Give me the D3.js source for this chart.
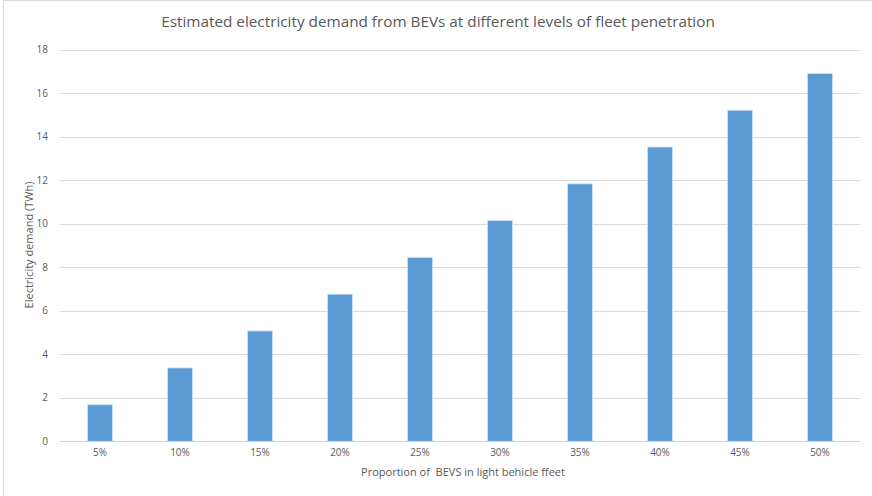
<!DOCTYPE html>
<html>
<head>
<meta charset="utf-8">
<script src="https://cdn.jsdelivr.net/npm/d3@7"></script>
<style>
  html, body { margin: 0; padding: 0; background: #fff; }
  svg { display: block; font-family: "Open Sans", "Liberation Sans", sans-serif; }
  text { white-space: pre; }
</style>
</head>
<body>
<svg id="chart" width="872" height="496"></svg>
<script>
// Fleet penetration levels and estimated BEV electricity demand (TWh)
const categories = ["5%", "10%", "15%", "20%", "25%", "30%", "35%", "40%", "45%", "50%"];
const demand = [1.68, 3.37, 5.07, 6.76, 8.45, 10.14, 11.83, 13.52, 15.21, 16.9];
const yTicks = [0, 2, 4, 6, 8, 10, 12, 14, 16, 18];

const title = "Estimated electricity demand from BEVs at different levels of fleet penetration";
const xTitle = "Proportion of  BEVS in light behicle ffeet";
const yTitle = "Electricity demand (TWh)";

const svg = d3.select("#chart");
const margin = { left: 60, right: 12, top: 49.5, bottom: 55 };
const W = 872, H = 496;
const plotBottom = 441.3;

// chart frame (left and top edges)
svg.append("path")
  .attr("d", `M3.5,${H} V0.5 H${W}`)
  .attr("fill", "none")
  .attr("stroke", "#d9d9d9")
  .attr("stroke-width", 1);

const x = d3.scaleBand()
  .domain(categories)
  .range([margin.left, W - margin.right])
  .paddingInner(0.6875)
  .paddingOuter(0.34375);

const y = d3.scaleLinear()
  .domain([0, 18])
  .range([plotBottom, margin.top]);

// horizontal gridlines
svg.append("g")
  .selectAll("line")
  .data(yTicks)
  .join("line")
  .attr("x1", margin.left)
  .attr("x2", W - margin.right)
  .attr("y1", d => Math.round(y(d)) + 0.5)
  .attr("y2", d => Math.round(y(d)) + 0.5)
  .attr("stroke", "#d9d9d9")
  .attr("stroke-width", 1);

// y axis labels
const yAxis = d3.axisLeft(y).tickValues(yTicks).tickSize(0).tickPadding(0);
svg.append("g")
  .attr("transform", `translate(${margin.left - 12},0)`)
  .call(yAxis)
  .call(g => g.select(".domain").remove())
  .call(g => g.selectAll("text")
    .attr("fill", "#595959")
    .attr("font-size", 10)
    .attr("font-family", "'Open Sans', sans-serif"));

// bars
svg.append("g")
  .selectAll("rect")
  .data(demand)
  .join("rect")
  .attr("x", (d, i) => x(categories[i]))
  .attr("width", x.bandwidth())
  .attr("y", d => y(d))
  .attr("height", d => y(0) - y(d))
  .attr("fill", "#5b9bd5")
  .attr("stroke", "#cfe1f3")
  .attr("stroke-width", 0.8);

// baseline
svg.append("line")
  .attr("x1", margin.left)
  .attr("x2", W - margin.right)
  .attr("y1", Math.round(y(0)) + 0.5)
  .attr("y2", Math.round(y(0)) + 0.5)
  .attr("stroke", "#d0d0d0")
  .attr("stroke-width", 1.2);

// x axis labels
const xAxis = d3.axisBottom(x).tickSize(0).tickPadding(0);
svg.append("g")
  .attr("transform", `translate(0,${plotBottom + 8})`)
  .call(xAxis)
  .call(g => g.select(".domain").remove())
  .call(g => g.selectAll("text")
    .attr("fill", "#595959")
    .attr("font-size", 10)
    .attr("font-family", "'Open Sans', sans-serif"));

// title
svg.append("text")
  .attr("x", 438)
  .attr("y", 27)
  .attr("text-anchor", "middle")
  .attr("fill", "#595959")
  .attr("font-size", 15.3)
  .text(title);

// axis titles
svg.append("text")
  .attr("x", 463)
  .attr("y", 476)
  .attr("text-anchor", "middle")
  .attr("fill", "#595959")
  .attr("font-size", 11)
  .text(xTitle);

svg.append("text")
  .attr("transform", `translate(33,${245}) rotate(-90)`)
  .attr("text-anchor", "middle")
  .attr("fill", "#595959")
  .attr("font-size", 11)
  .text(yTitle);
</script>
</body>
</html>
